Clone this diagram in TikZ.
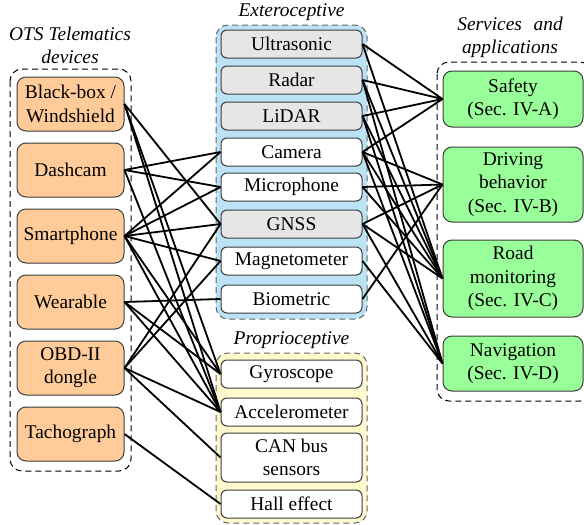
\documentclass[tikz,border=0pt]{standalone}
\usepackage{fontspec}
\setmainfont{Liberation Serif}
\newfontfamily\tnr{Liberation Serif}
\definecolor{orangeC}{RGB}{255,204,153}
\definecolor{grayC}{RGB}{230,230,230}
\definecolor{greenC}{RGB}{153,255,153}
\definecolor{blueC}{RGB}{187,227,245}
\definecolor{yellowC}{RGB}{255,249,206}
\definecolor{edgeC}{RGB}{60,60,60}
\begin{document}
\begin{tikzpicture}[x=0.5pt,y=-0.5pt,
  txt/.style={font=\tnr\fontsize{9.7}{11.6}\selectfont, align=center},
  box/.style={txt, draw=edgeC, line width=0.5pt, rounded corners=3pt, inner sep=1pt},
  dev/.style={box, fill=orangeC, rounded corners=4.5pt, minimum width=53.5pt, minimum height=27pt},
  sen/.style={box, fill=white, minimum width=70.5pt, minimum height=14pt},
  seng/.style={sen, fill=grayC},
  app/.style={box, fill=greenC, rounded corners=4.5pt, minimum width=70pt},
  grp/.style={line width=0.5pt, dash pattern=on 3pt off 2pt, rounded corners=6pt},
  ttl/.style={txt, font=\tnr\fontsize{9.7}{11.6}\selectfont\itshape},
  conn/.style={line width=0.9pt, black}]
\useasboundingbox (0,0) rectangle (584,525);
% group boxes
\draw[grp, draw=black] (10,69) rectangle (131,471);
\draw[grp, draw=black!60, fill=blueC] (216,25) rectangle (367,319);
\draw[grp, draw=black!60, fill=yellowC] (216,353) rectangle (367,523);
\draw[grp, draw=black] (437,62) rectangle (592,401);
% titles
\node[ttl] (tdev) at (70,45) {OTS Telematics\\devices};
\node[ttl] (text) at (291.5,12) {Exteroceptive};
\node[ttl] (tpro) at (291.5,340) {Proprioceptive};
\node[ttl] (tsrv) at (510,37) {Services\hspace{0.6em}and\\applications};
% devices
\node[dev] (bb) at (70.5,104) {Black-box /\\Windshield};
\node[dev] (dc) at (70.5,170) {Dashcam};
\node[dev] (sp) at (70.5,236) {Smartphone};
\node[dev] (wr) at (70.5,302) {Wearable};
\node[dev] (obd) at (70.5,368) {OBD-II\\dongle};
\node[dev] (tg) at (70.5,434) {Tachograph};
% exteroceptive
\node[seng] (us) at (291.5,44) {Ultrasonic};
\node[seng] (rd) at (291.5,80) {Radar};
\node[seng] (ld) at (291.5,116) {LiDAR};
\node[sen] (cm) at (291.5,152) {Camera};
\node[sen] (mc) at (291.5,187) {Microphone};
\node[seng] (gn) at (291.5,224) {GNSS};
\node[sen] (mg) at (291.5,261) {Magnetometer};
\node[sen] (bm) at (291.5,299) {Biometric};
% proprioceptive
\node[sen] (gy) at (291.5,374) {Gyroscope};
\node[sen] (ac) at (291.5,412) {Accelerometer};
\node[sen, minimum height=24.5pt] (can) at (291.5,457.5) {CAN bus\\sensors};
\node[sen] (he) at (291.5,504) {Hall effect};
% applications
\node[app, minimum height=28pt] (sf) at (513,99) {Safety\\(Sec. IV-A)};
\node[app, minimum height=37.5pt] (db) at (513,184.5) {Driving\\behavior\\(Sec. IV-B)};
\node[app, minimum height=38.5pt] (rm) at (513,278.5) {Road\\monitoring\\(Sec. IV-C)};
\node[app, minimum height=27.5pt] (nv) at (513,363.5) {Navigation\\(Sec. IV-D)};
% device -> sensor
\foreach \a/\b in {bb/gn, bb/gy, bb/ac,
                   dc/cm, dc/mc, dc/ac,
                   sp/cm, sp/mc, sp/gn, sp/mg, sp/gy, sp/ac,
                   wr/bm, wr/gy, wr/ac,
                   obd/gn, obd/mg, obd/ac, obd/can,
                   tg/he}
  \draw[conn] (\a.east) -- (\b.west);
% sensor -> application
\foreach \a/\b in {us/sf, rd/sf, ld/sf, cm/sf,
                   cm/db, mc/db, gn/db, bm/db,
                   us/rm, rd/rm, ld/rm, cm/rm, mc/rm, gn/rm,
                   rd/nv, ld/nv, cm/nv, gn/nv, mg/nv}
  \draw[conn] (\a.east) -- (\b.west);
\end{tikzpicture}
\end{document}
